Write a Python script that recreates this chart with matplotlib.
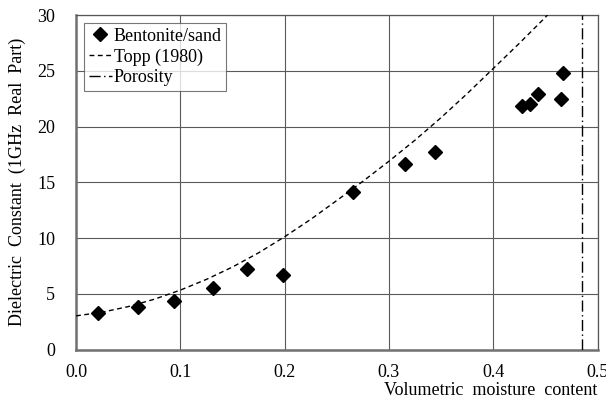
import matplotlib
matplotlib.use("Agg")
import matplotlib.pyplot as plt

# Measured data (Bentonite/sand)
theta_meas = [0.021, 0.059, 0.094, 0.131, 0.164, 0.198, 0.266, 0.315, 0.344,
              0.428, 0.435, 0.443, 0.465, 0.467]
eps_meas = [3.3, 3.8, 4.4, 5.5, 7.2, 6.7, 14.1, 16.6, 17.7,
            21.8, 22.0, 22.9, 22.5, 24.8]

# Topp (1980) curve
theta_topp = [0.0, 0.025, 0.05, 0.075, 0.1, 0.125, 0.15, 0.175, 0.2, 0.225,
              0.25, 0.275, 0.3, 0.325, 0.35, 0.375, 0.4, 0.425, 0.45, 0.452]
eps_topp = [3.03, 3.36, 3.86, 4.52, 5.34, 6.30, 7.41, 8.68, 10.12, 11.68,
            13.37, 15.09, 16.89, 18.78, 20.80, 22.95, 25.20, 27.46, 29.79, 30.0]

porosity = 0.485

x_ticks = [0.0, 0.1, 0.2, 0.3, 0.4, 0.5]
y_ticks = [0, 5, 10, 15, 20, 25, 30]

plt.rcParams['font.family'] = ['Liberation Serif', 'DejaVu Serif']
plt.rcParams['font.size'] = 13

fig = plt.figure(figsize=(6.06, 4.01), dpi=100)
ax = fig.add_axes([76/606, 1 - 349.7/401, (597.5-76)/606, (349.7-15)/401])

ax.plot(theta_meas, eps_meas, linestyle='none', marker='D', color='black',
        markersize=6.8, label='Bentonite/sand', zorder=4)
ax.plot(theta_topp, eps_topp, linestyle=(0, (3.5, 2.5)), color='black',
        linewidth=1.0, label='Topp (1980)', zorder=3)
ax.axvline(porosity, color='black', linewidth=1.0,
           linestyle=(0, (8, 2.5, 1, 2.5)), label='Porosity', zorder=3)

ax.set_xlim(0, 0.5)
ax.set_ylim(0, 30)
ax.set_xticks(x_ticks)
ax.set_xticklabels([f"{t:.1f}" for t in x_ticks])
ax.set_yticks(y_ticks)
ax.grid(True, color='#5a5a5a', linewidth=0.8)
ax.set_axisbelow(True)
ax.tick_params(axis='y', length=0, pad=15, labelsize=13)
ax.tick_params(axis='x', length=0, pad=10, labelsize=13)

for side in ['top', 'right']:
    ax.spines[side].set_color('#555555')
    ax.spines[side].set_linewidth(0.9)
for side in ['left', 'bottom']:
    ax.spines[side].set_color('#707070')
    ax.spines[side].set_linewidth(1.8)

ax.set_ylabel('Dielectric  Constant  (1GHz  Real  Part)', fontsize=13, labelpad=8)
ax.set_xlabel('Volumetric  moisture  content', fontsize=13, loc='right', labelpad=1)

leg = ax.legend(loc='upper left', bbox_to_anchor=(0.0, 1.0), frameon=True,
                fancybox=False, edgecolor='#555555', fontsize=13,
                handlelength=1.3, handletextpad=0.1, borderpad=0.25,
                labelspacing=0.2, borderaxespad=0.45)
leg.get_frame().set_linewidth(0.8)

fig.savefig('out.png', dpi=100, facecolor='white')
